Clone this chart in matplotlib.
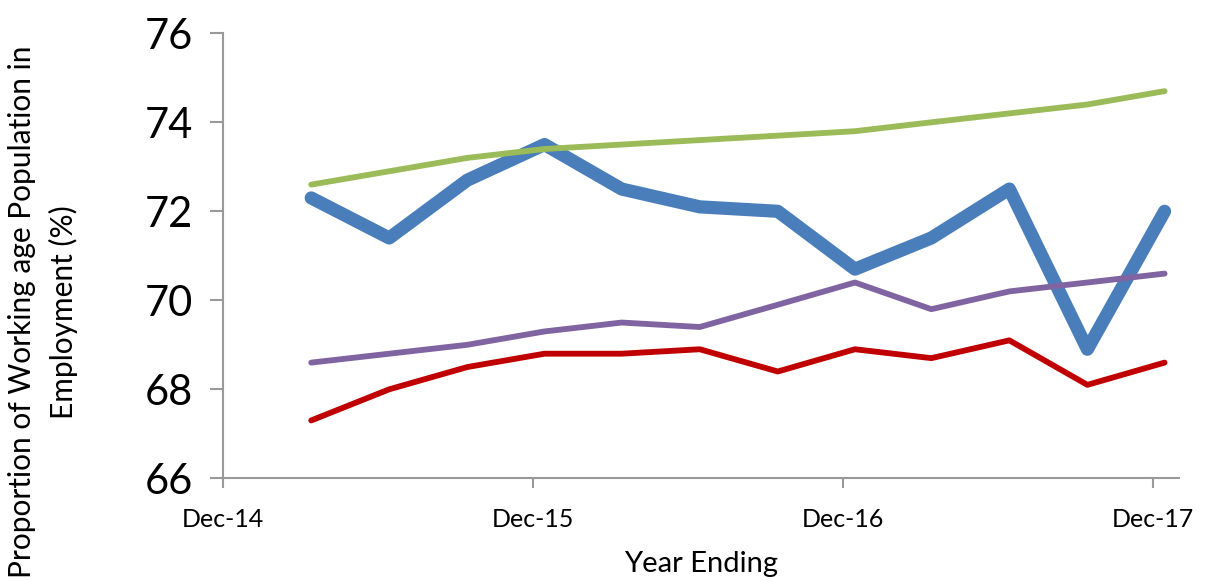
import datetime as dt

import matplotlib
matplotlib.use("Agg")
import matplotlib.dates as mdates
import matplotlib.pyplot as plt

# quarterly points, year ending Mar-15 .. Dec-17
dates = [dt.date(y, m, 15) for y in (2015, 2016, 2017) for m in (3, 6, 9, 12)]

blue = [72.3, 71.4, 72.7, 73.5, 72.5, 72.1, 72.0, 70.7, 71.4, 72.5, 68.9, 72.0]
green = [72.6, 72.9, 73.2, 73.4, 73.5, 73.6, 73.7, 73.8, 74.0, 74.2, 74.4, 74.7]
purple = [68.6, 68.8, 69.0, 69.3, 69.5, 69.4, 69.9, 70.4, 69.8, 70.2, 70.4, 70.6]
red = [67.3, 68.0, 68.5, 68.8, 68.8, 68.9, 68.4, 68.9, 68.7, 69.1, 68.1, 68.6]

x_ticks = [dt.date(y, 12, 1) for y in (2014, 2015, 2016, 2017)]
y_ticks = [66, 68, 70, 72, 74, 76]

FONT = ["Lato", "DejaVu Sans"]
plt.rcParams["font.family"] = FONT

fig = plt.figure(figsize=(12.15, 5.81), dpi=100)
ax = fig.add_axes([223 / 1215, 1 - 478.3 / 581, (1179 - 223) / 1215, (478.3 - 33.3) / 581])

ax.plot(dates, blue, color="#4A7EBB", lw=9.5, solid_capstyle="round", zorder=2)
ax.plot(dates, green, color="#9BBB59", lw=4.2, solid_capstyle="round", zorder=3)
ax.plot(dates, purple, color="#8064A2", lw=4.2, solid_capstyle="round", zorder=3)
ax.plot(dates, red, color="#C00000", lw=4.2, solid_capstyle="round", zorder=3)

ax.set_xlim(dt.date(2014, 12, 1), dt.date(2018, 1, 1))
ax.set_ylim(66, 76)
ax.set_xticks(x_ticks)
ax.xaxis.set_major_formatter(mdates.DateFormatter("%b-%y"))
ax.set_yticks(y_ticks)

for side in ("top", "right"):
    ax.spines[side].set_visible(False)
for side in ("left", "bottom"):
    ax.spines[side].set_color("#999999")
    ax.spines[side].set_linewidth(1.5)

ax.tick_params(axis="y", length=9.5, width=1.5, color="#999999", labelsize=30, pad=12)
ax.tick_params(axis="x", length=7.5, width=1.5, color="#999999", labelsize=18, pad=14)

ax.set_xlabel("Year Ending", fontsize=21, labelpad=14)
fig.text(
    43 / 1215, 1 - 312 / 581,
    "Proportion of Working age Population in\nEmployment (%)",
    rotation=90, ha="center", va="center", multialignment="center",
    fontsize=21.5, linespacing=1.5,
)

fig.savefig("out.png", dpi=100, facecolor="white")
